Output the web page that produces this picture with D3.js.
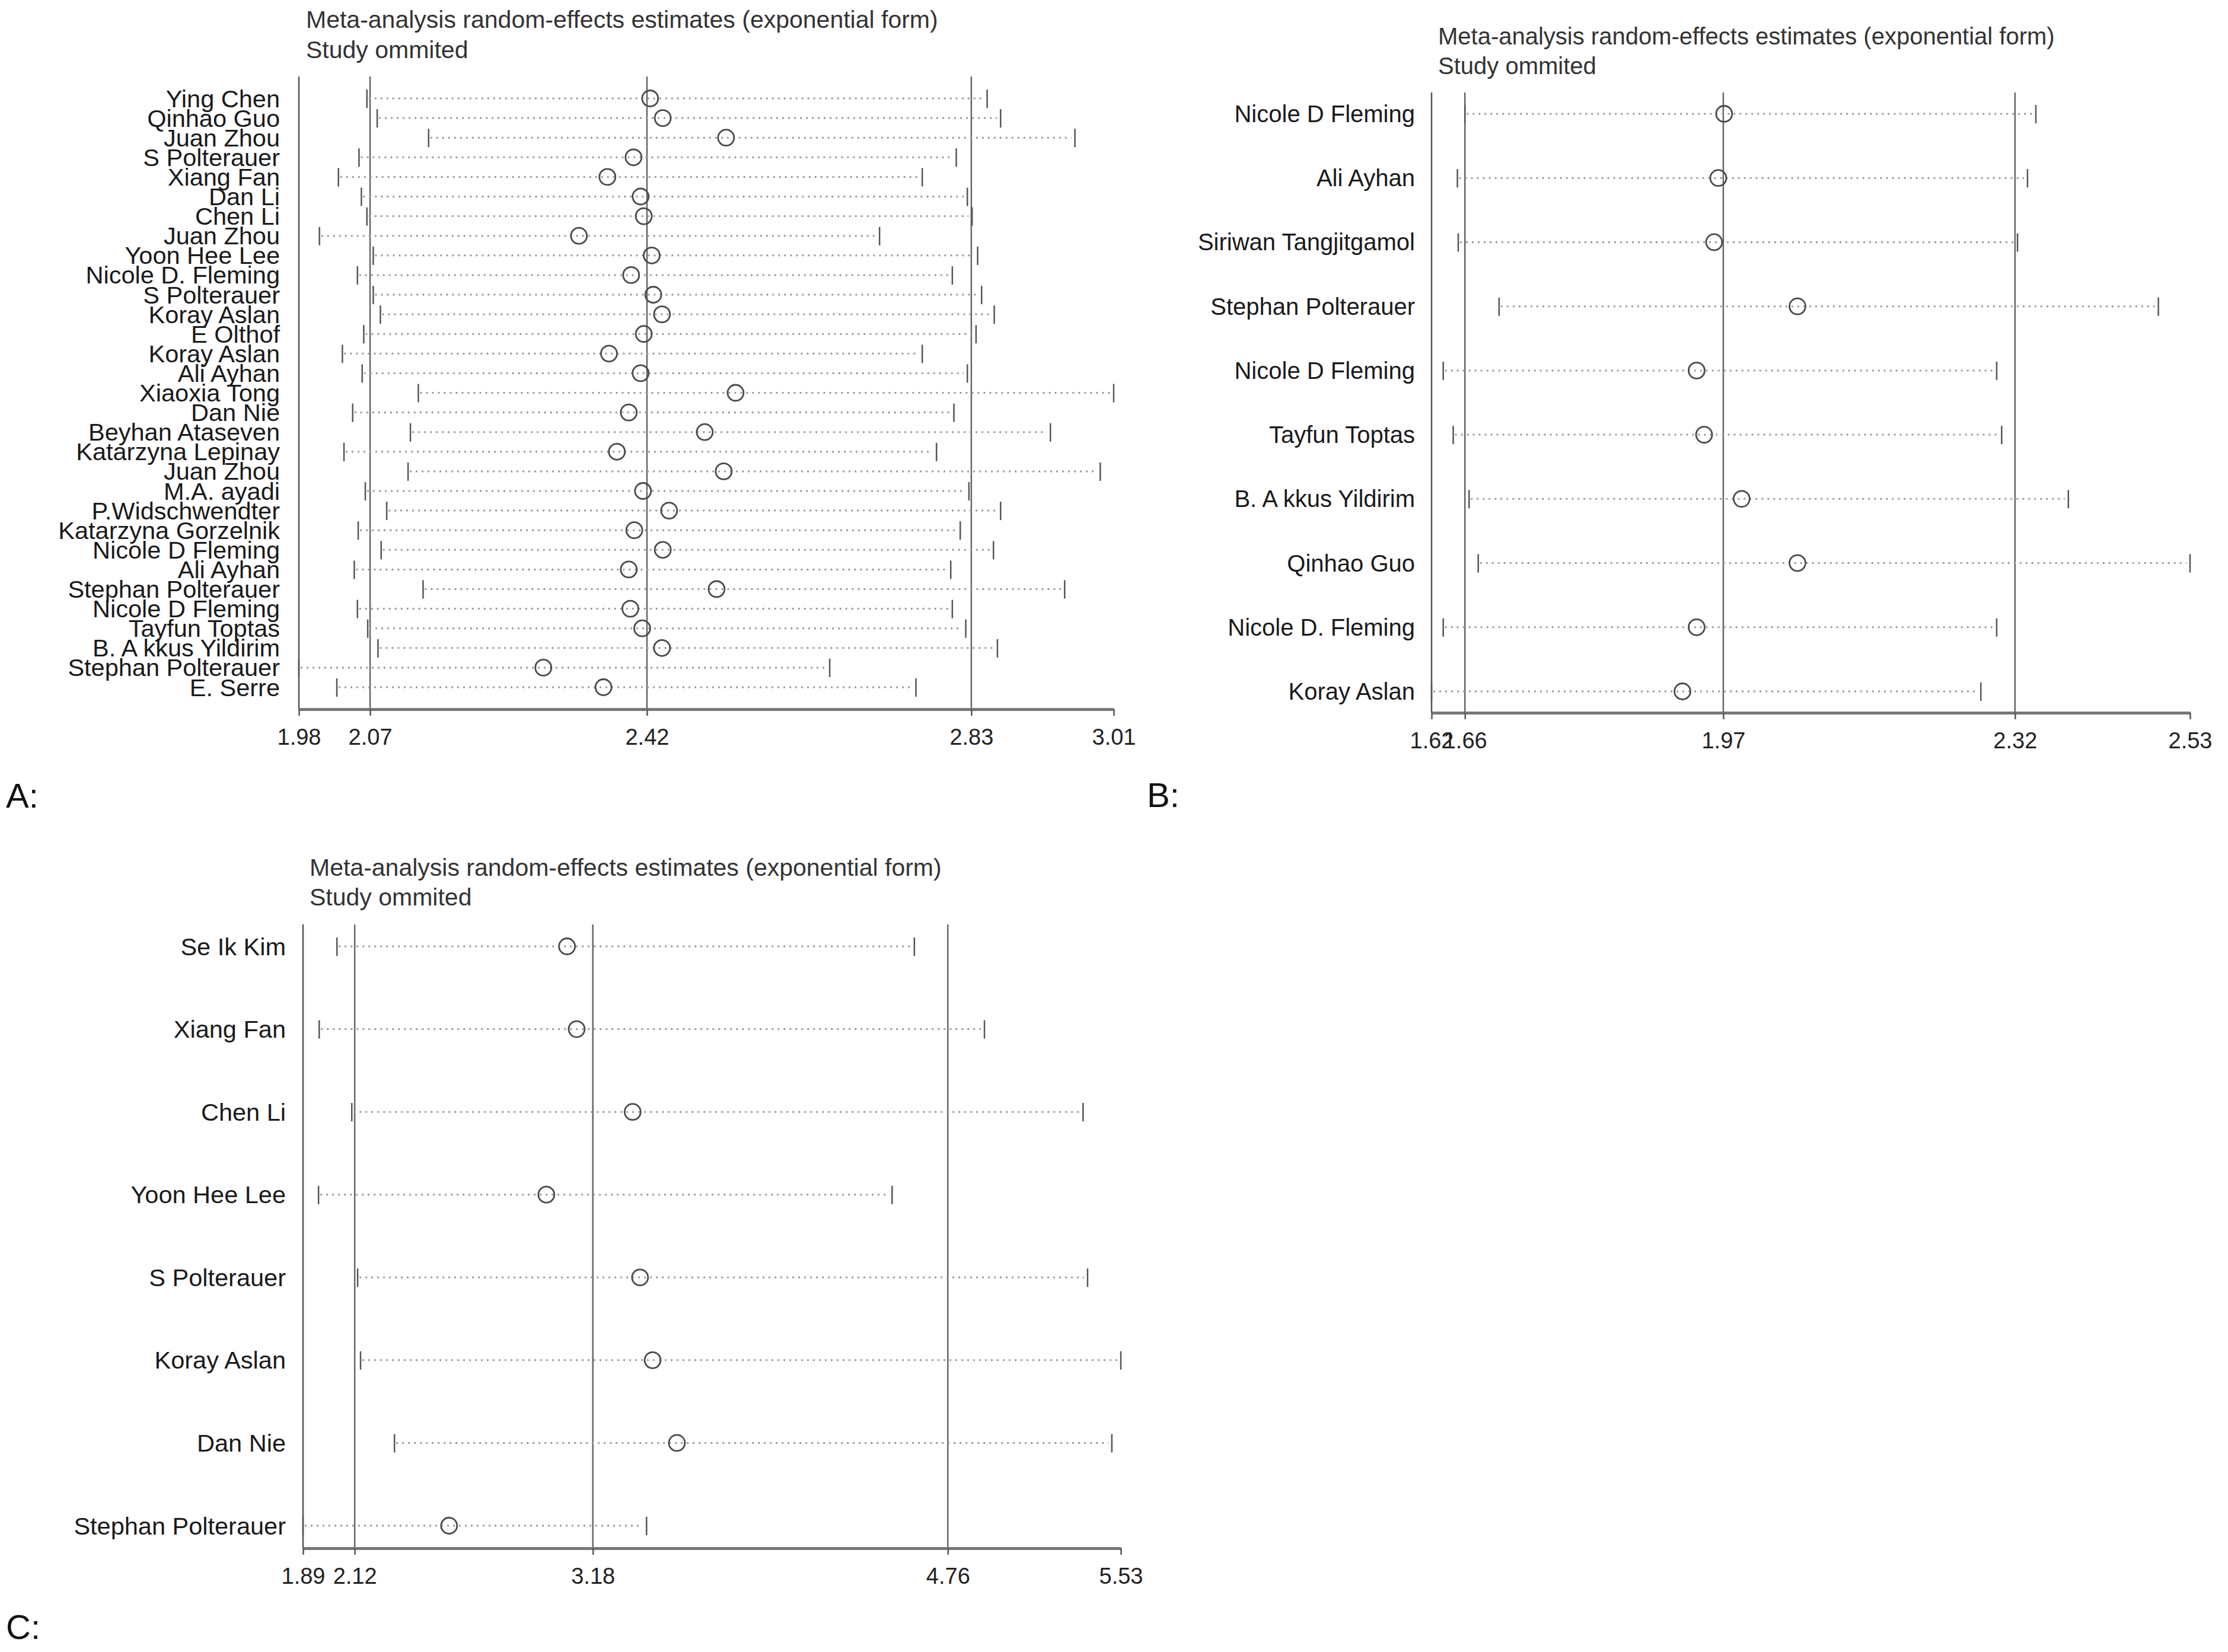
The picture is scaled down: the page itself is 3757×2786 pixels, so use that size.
<!DOCTYPE html>
<html>
<head>
<meta charset="utf-8">
<script src="https://cdn.jsdelivr.net/npm/d3@7"></script>
<style>
  html, body { margin: 0; padding: 0; background: #fff; }
  svg { display: block; }
  text { font-family: "Liberation Sans", Arial, sans-serif; }
</style>
</head>
<body>
<svg id="chart" width="3757" height="2786"></svg>
<script>
// ---------------- DATA ----------------
const titleText = "Meta-analysis random-effects estimates (exponential form)";
const subtitleText = "Study ommited";

// Panel A
const studiesA = ["Ying Chen","Qinhao Guo","Juan Zhou","S Polterauer","Xiang Fan","Dan Li","Chen Li","Juan Zhou",
  "Yoon Hee Lee","Nicole D. Fleming","S Polterauer","Koray Aslan","E Olthof","Koray Aslan","Ali Ayhan","Xiaoxia Tong",
  "Dan Nie","Beyhan Ataseven","Katarzyna Lepinay","Juan Zhou","M.A. ayadi","P.Widschwendter","Katarzyna Gorzelnik",
  "Nicole D Fleming","Ali Ayhan","Stephan Polterauer","Nicole D Fleming","Tayfun Toptas","B. A kkus Yildirim",
  "Stephan Polterauer","E. Serre"];
const estA = [2.424,2.440,2.520,2.403,2.370,2.412,2.416,2.334,2.426,2.400,2.428,2.439,2.416,2.372,2.412,2.532,
  2.397,2.493,2.382,2.517,2.415,2.448,2.404,2.440,2.397,2.508,2.399,2.414,2.439,2.289,2.365];
const lowA = [2.066,2.079,2.144,2.056,2.030,2.059,2.066,2.006,2.074,2.054,2.074,2.083,2.062,2.035,2.060,2.131,
  2.048,2.121,2.037,2.118,2.064,2.091,2.055,2.084,2.050,2.137,2.054,2.067,2.080,1.980,2.028];
const upA = [2.850,2.867,2.961,2.811,2.768,2.825,2.831,2.714,2.838,2.806,2.843,2.859,2.836,2.768,2.825,3.010,
  2.808,2.930,2.786,2.993,2.827,2.867,2.816,2.858,2.804,2.948,2.806,2.823,2.863,2.651,2.760];
const ticksA = [1.98, 2.07, 2.42, 2.83, 3.01];
const refA = [2.07, 2.42, 2.83];

// Panel B
const studiesB = ["Nicole D Fleming","Ali Ayhan","Siriwan Tangjitgamol","Stephan Polterauer","Nicole D Fleming",
  "Tayfun Toptas","B. A kkus Yildirim","Qinhao Guo","Nicole D. Fleming","Koray Aslan"];
const estB = [1.971,1.964,1.959,2.059,1.938,1.947,1.992,2.059,1.938,1.921];
const lowB = [1.660,1.651,1.652,1.701,1.634,1.646,1.665,1.676,1.634,1.620];
const upB = [2.345,2.335,2.323,2.492,2.298,2.304,2.384,2.530,2.298,2.279];
const ticksB = [1.62, 1.66, 1.97, 2.32, 2.53];
const refB = [1.66, 1.97, 2.32];

// Panel C
const studiesC = ["Se Ik Kim","Xiang Fan","Chen Li","Yoon Hee Lee","S Polterauer","Koray Aslan","Dan Nie","Stephan Polterauer"];
const estC = [3.065,3.108,3.357,2.973,3.390,3.446,3.554,2.540];
const lowC = [2.041,1.962,2.107,1.959,2.133,2.146,2.297,1.890];
const upC = [4.611,4.923,5.362,4.512,5.382,5.530,5.490,3.419];
const ticksC = [1.89, 2.12, 3.18, 4.76, 5.53];
const refC = [2.12, 3.18, 4.76];

const panelLetters = ["A:", "B:", "C:"];

// ---------------- LAYOUT ----------------
const panels = [
  {names: studiesA, est: estA, lo: lowA, hi: upA, ticks: ticksA, refs: refA, letter: panelLetters[0],
   x0: 504, x1: 1878, yTop: 129, yFirst: 166, yLast: 1159, axisY: 1196, labelRight: 472,
   titleX: 516, titleY: 47, subY: 98, letterX: 10, letterY: 1362, font: 41.5, titleFont: 41},
  {names: studiesB, est: estB, lo: lowB, hi: upB, ticks: ticksB, refs: refB, letter: panelLetters[1],
   x0: 2414, x1: 3693, yTop: 156, yFirst: 192, yLast: 1166, axisY: 1202, labelRight: 2386,
   titleX: 2425, titleY: 75, subY: 125, letterX: 1934, letterY: 1361, font: 40, titleFont: 40},
  {names: studiesC, est: estC, lo: lowC, hi: upC, ticks: ticksC, refs: refC, letter: panelLetters[2],
   x0: 511, x1: 1890, yTop: 1559, yFirst: 1596, yLast: 2573, axisY: 2611, labelRight: 482,
   titleX: 522, titleY: 1477, subY: 1527, letterX: 10, letterY: 2764, font: 41.5, titleFont: 41}
];

const svg = d3.select("#chart");
svg.append("rect").attr("width", 3757).attr("height", 2786).attr("fill", "#fff");

panels.forEach(p => {
  const g = svg.append("g");
  const n = p.names.length;
  const x = d3.scaleLinear().domain([p.ticks[0], p.ticks[p.ticks.length - 1]]).range([p.x0, p.x1]);
  const y = d3.scalePoint().domain(d3.range(n)).range([p.yFirst, p.yLast]);

  // titles
  g.append("text").attr("x", p.titleX).attr("y", p.titleY)
    .attr("font-size", p.titleFont).attr("fill", "#333").text(titleText);
  g.append("text").attr("x", p.titleX).attr("y", p.subY)
    .attr("font-size", p.titleFont).attr("fill", "#333").text(subtitleText);

  // left frame line (domain min) and reference lines
  g.append("line")
    .attr("x1", x(p.ticks[0])).attr("x2", x(p.ticks[0]))
    .attr("y1", p.yTop).attr("y2", p.axisY)
    .attr("stroke", "#555").attr("stroke-width", 2.5);
  g.selectAll("line.ref").data(p.refs).join("line").attr("class", "ref")
    .attr("x1", d => x(d)).attr("x2", d => x(d))
    .attr("y1", p.yTop).attr("y2", p.axisY)
    .attr("stroke", "#666").attr("stroke-width", 2.5);

  const rows = d3.range(n);

  // dotted CI lines
  g.selectAll("line.ci").data(rows).join("line").attr("class", "ci")
    .attr("x1", i => x(p.lo[i]) + 3).attr("x2", i => x(p.hi[i]) - 6)
    .attr("y1", i => y(i)).attr("y2", i => y(i))
    .attr("stroke", "#9a9a9a").attr("stroke-width", 3).attr("stroke-dasharray", "3,7");

  // whisker caps
  ["lo", "hi"].forEach(k => {
    g.selectAll("line.cap" + k).data(rows).join("line").attr("class", "cap" + k)
      .attr("x1", i => x(p[k][i])).attr("x2", i => x(p[k][i]))
      .attr("y1", i => y(i) - 15).attr("y2", i => y(i) + 16)
      .attr("stroke", "#555").attr("stroke-width", 2.5);
  });

  // point estimates
  g.selectAll("circle.est").data(rows).join("circle").attr("class", "est")
    .attr("cx", i => x(p.est[i])).attr("cy", i => y(i)).attr("r", 13.5)
    .attr("fill", "none").attr("stroke", "#4a4a4a").attr("stroke-width", 2.8);

  // study labels
  g.selectAll("text.lab").data(rows).join("text").attr("class", "lab")
    .attr("x", p.labelRight).attr("y", i => y(i)).attr("dy", "0.35em")
    .attr("text-anchor", "end").attr("font-size", p.font).attr("fill", "#1a1a1a")
    .text(i => p.names[i]);

  // bottom axis
  const axis = d3.axisBottom(x).tickValues(p.ticks).tickFormat(d3.format(".2f"))
    .tickSize(11).tickSizeOuter(0).tickPadding(22);
  const ag = g.append("g").attr("transform", `translate(0,${p.axisY})`).call(axis);
  ag.select(".domain").attr("stroke", "#777").attr("stroke-width", 5);
  ag.selectAll(".tick line").attr("stroke", "#555").attr("stroke-width", 2.5);
  ag.selectAll(".tick text").attr("font-size", 38).attr("fill", "#222")
    .attr("font-family", "'Liberation Sans', Arial, sans-serif");

  // panel letter
  g.append("text").attr("x", p.letterX).attr("y", p.letterY)
    .attr("font-size", 58).attr("fill", "#111").text(p.letter);
});
</script>
</body>
</html>
